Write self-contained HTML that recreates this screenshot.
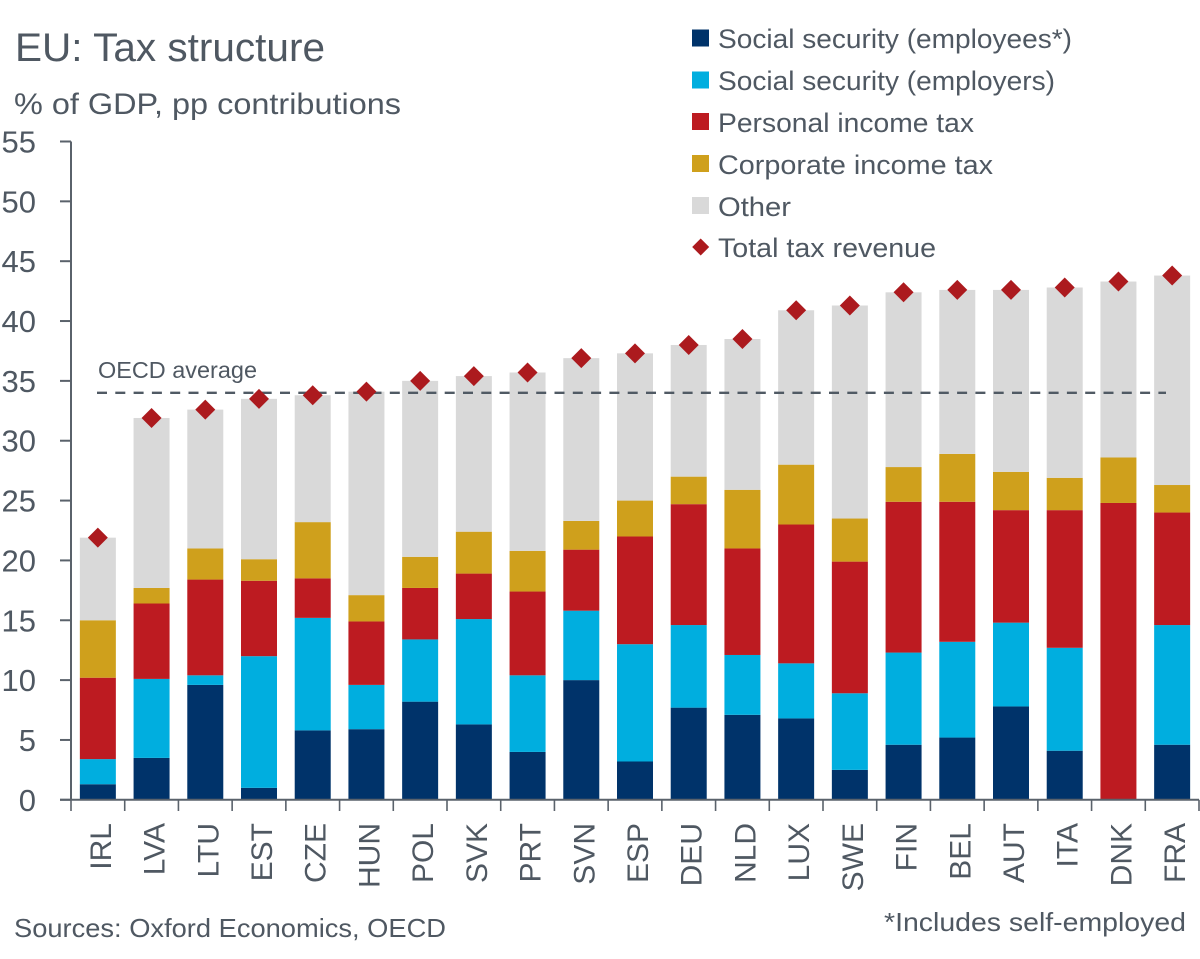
<!DOCTYPE html>
<html lang="en">
<head>
<meta charset="utf-8">
<title>EU: Tax structure</title>
<style>
html,body{margin:0;padding:0;background:#fff;width:1200px;height:959px;overflow:hidden}
svg{display:block}
text{font-family:"Liberation Sans",sans-serif;fill:#4f5862}
</style>
</head>
<body>
<svg id="chart" width="1200" height="959" viewBox="0 0 1200 959" xmlns="http://www.w3.org/2000/svg">
  <text x="15" y="61" font-size="40" textLength="310" lengthAdjust="spacingAndGlyphs">EU: Tax structure</text>
  <text x="14" y="114" font-size="30" textLength="387" lengthAdjust="spacingAndGlyphs">% of GDP, pp contributions</text>
  <g id="bars"></g>
  <g id="axes"></g>
  <g id="reference">
    <text x="98" y="378" font-size="23" textLength="159" lengthAdjust="spacingAndGlyphs">OECD average</text>
  </g>
  <g id="markers"></g>
  <g id="legend">
    <g>
      <rect x="692" y="29.5" width="17" height="17" fill="#00336A"/>
      <text x="718" y="48" font-size="27" textLength="354" lengthAdjust="spacingAndGlyphs">Social security (employees*)</text>
    </g>
    <g>
      <rect x="692" y="71.5" width="17" height="17" fill="#00AEDF"/>
      <text x="718" y="90" font-size="27" textLength="337" lengthAdjust="spacingAndGlyphs">Social security (employers)</text>
    </g>
    <g>
      <rect x="692" y="113" width="17" height="17" fill="#BD1B21"/>
      <text x="718" y="132" font-size="27" textLength="256" lengthAdjust="spacingAndGlyphs">Personal income tax</text>
    </g>
    <g>
      <rect x="692" y="155" width="17" height="17" fill="#CFA01C"/>
      <text x="718" y="174" font-size="27" textLength="275" lengthAdjust="spacingAndGlyphs">Corporate income tax</text>
    </g>
    <g>
      <rect x="692" y="197" width="17" height="17" fill="#D9D9D9"/>
      <text x="718" y="216" font-size="27" textLength="73" lengthAdjust="spacingAndGlyphs">Other</text>
    </g>
    <g>
      <polygon points="700.7,238.5 709.2,247 700.7,255.5 692.2,247" fill="#AC1A1E"/>
      <text x="718" y="257" font-size="27" textLength="218" lengthAdjust="spacingAndGlyphs">Total tax revenue</text>
    </g>
  </g>
  <text x="14" y="937" font-size="26" textLength="432" lengthAdjust="spacingAndGlyphs">Sources: Oxford Economics, OECD</text>
  <text x="884" y="931" font-size="26" textLength="302" lengthAdjust="spacingAndGlyphs">*Includes self-employed</text>
</svg>
<script>
const categories = ["IRL","LVA","LTU","EST","CZE","HUN","POL","SVK","PRT","SVN","ESP","DEU","NLD","LUX","SWE","FIN","BEL","AUT","ITA","DNK","FRA"];
const employees = [1.3,3.5,9.6,1.0,5.8,5.9,8.2,6.3,4.0,10.0,3.2,7.7,7.1,6.8,2.5,4.6,5.2,7.8,4.1,0,4.6];
const employers = [2.1,6.6,0.8,11.0,9.4,3.7,5.2,8.8,6.4,5.8,9.8,6.9,5.0,4.6,6.4,7.7,8.0,7.0,8.6,0,10.0];
const personalIncomeTax = [6.8,6.3,8.0,6.3,3.3,5.3,4.3,3.8,7.0,5.1,9.0,10.1,8.9,11.6,11.0,12.6,11.7,9.4,11.5,24.8,9.4];
const corporateIncomeTax = [4.8,1.3,2.6,1.8,4.7,2.2,2.6,3.5,3.4,2.4,3.0,2.3,4.9,5.0,3.6,2.9,4.0,3.2,2.7,3.8,2.3];
const other = [6.9,14.2,11.6,13.4,10.6,17.0,14.7,13.0,14.9,13.6,12.3,11.0,12.6,12.9,17.8,14.6,13.7,15.2,15.9,14.7,17.5];
const totalRevenue = [21.9,31.9,32.6,33.5,33.8,34.1,35.0,35.4,35.7,36.9,37.3,38.0,38.5,40.9,41.3,42.4,42.6,42.6,42.8,43.3,43.8];
const yTicks = [0,5,10,15,20,25,30,35,40,45,50,55];
const oecdAverage = 34;

const NS = "http://www.w3.org/2000/svg";
const plotLeft = 71, plotBottom = 799.8, plotTop = 141.5, plotRight = 1199, yMax = 55;
const band = (plotRight - plotLeft) / categories.length;
const barWidth = 36;
const axisColor = "#5A626B";

function xCenter(i){ return plotLeft + band * (i + 0.5); }
function yPos(v){ return plotBottom - (v / yMax) * (plotBottom - plotTop); }
function make(tag, attrs, parent){
  const el = document.createElementNS(NS, tag);
  for (const k in attrs) el.setAttribute(k, attrs[k]);
  parent.appendChild(el);
  return el;
}

const barsGroup = document.getElementById("bars");
const axesGroup = document.getElementById("axes");
const refGroup = document.getElementById("reference");
const markersGroup = document.getElementById("markers");

const seriesList = [
  {key:"employees", values:employees, color:"#00336A"},
  {key:"employers", values:employers, color:"#00AEDF"},
  {key:"personal-income-tax", values:personalIncomeTax, color:"#BD1B21"},
  {key:"corporate-income-tax", values:corporateIncomeTax, color:"#CFA01C"},
  {key:"other", values:other, color:"#D9D9D9"}
];

categories.forEach(function(cat, i){
  let base = 0;
  seriesList.forEach(function(s){
    const v = s.values[i];
    if (v > 0) {
      const top = base + v;
      const rect = make("rect", {x:xCenter(i) - barWidth / 2, y:yPos(top), width:barWidth, height:yPos(base) - yPos(top), fill:s.color}, barsGroup);
      
      
      rect.setAttribute('data-series', s.key);
      rect.setAttribute('data-category', cat);
    }
    base += v;
  });
});

// y axis
const yAxisLine = make("line", {x1:plotLeft, y1:plotTop, x2:plotLeft, y2:plotBottom, stroke:axisColor, "stroke-width":2}, axesGroup);


yTicks.forEach(function(t){
  const tick = make("line", {x1:60, y1:yPos(t), x2:plotLeft, y2:yPos(t), stroke:axisColor, "stroke-width":2}, axesGroup);
  
  
  const label = make("text", {x:36, y:yPos(t) + 11, "font-size":31, "text-anchor":"end"}, axesGroup);
  
  
  label.textContent = t;
});

// x axis
const xAxisLine = make("line", {x1:60, y1:plotBottom, x2:plotRight, y2:plotBottom, stroke:axisColor, "stroke-width":2}, axesGroup);


for (let i = 0; i <= categories.length; i++) {
  const tx = plotLeft + band * i;
  const tick = make("line", {x1:tx, y1:plotBottom, x2:tx, y2:811, stroke:axisColor, "stroke-width":1.6}, axesGroup);
  
  
}
categories.forEach(function(cat, i){
  const bx = xCenter(i) + 13;
  const label = make("text", {x:bx, y:823, "font-size":30, "text-anchor":"end", transform:"rotate(-90 " + bx + " 823)"}, axesGroup);
  
  
  label.textContent = cat;
});

// OECD average line
const oecdLine = make("line", {x1:97, y1:yPos(oecdAverage), x2:1166, y2:yPos(oecdAverage), stroke:"#505A64", "stroke-width":2.4, "stroke-dasharray":"10 8.3"}, refGroup);



// total markers
const r = 10;
totalRevenue.forEach(function(v, i){
  const cx = xCenter(i), cy = yPos(v);
  const d = make("polygon", {points:[cx,cy-r,cx+r,cy,cx,cy+r,cx-r,cy].join(" "), fill:"#AC1A1E"}, markersGroup);
  
  
  d.setAttribute('data-category', categories[i]);
});
</script>
</body>
</html>
